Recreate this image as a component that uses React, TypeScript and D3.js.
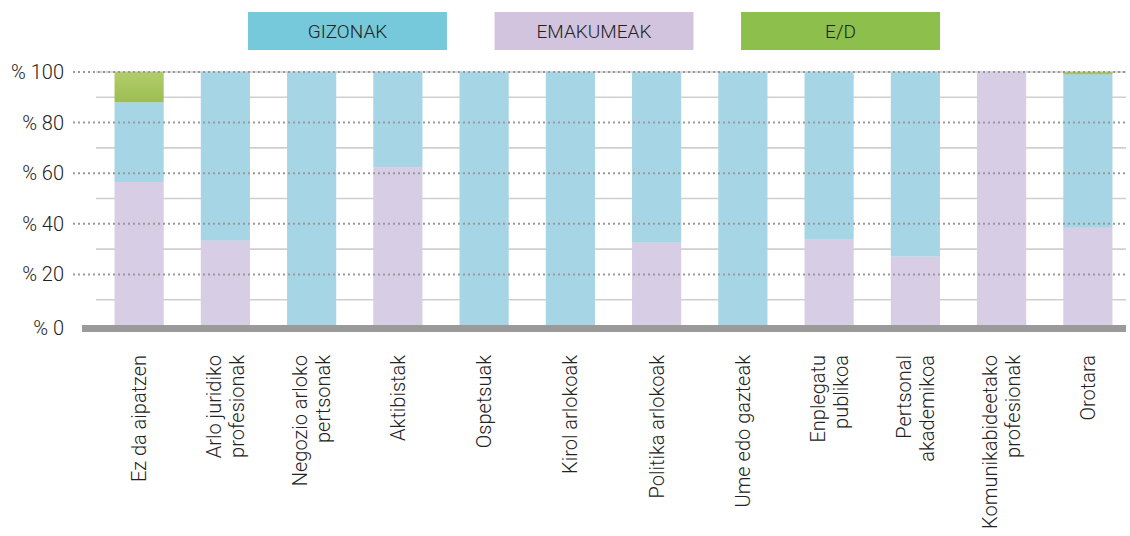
import React from 'react'
import * as d3 from 'd3'

const width = 1130;
const height = 536;
const margin = {top: 72, right: 5, bottom: 209, left: 96};

// categories (line breaks in labels marked with |)
const categories = [
  'Ez da aipatzen',
  'Arlo juridiko|profesionak',
  'Negozio arloko|pertsonak',
  'Aktibistak',
  'Ospetsuak',
  'Kirol arlokoak',
  'Politika arlokoak',
  'Ume edo gazteak',
  'Enplegatu|publikoa',
  'Pertsonal|akademikoa',
  'Komunikabideetako|profesionak',
  'Orotara'
];
const emakumeak = [56.5, 33.3, 0, 62.4, 0, 0, 32.5, 0, 33.7, 27, 100, 38.4];
const gizonak = [31.5, 66.7, 100, 37.6, 100, 100, 67.5, 100, 66.3, 73, 0, 60.6];
const ed = [12, 0, 0, 0, 0, 0, 0, 0, 0, 0, 0, 1];

const seriesNames = ['GIZONAK', 'EMAKUMEAK', 'E/D'];
const legendColors = ['#76c9da', '#d2c4de', '#8cbf4b'];
const barColors = ['#a6d6e5', '#d7cde4', 'url(#edGrad)'];
const yTicks = [0, 20, 40, 60, 80, 100];
const yMinor = [10, 30, 50, 70, 90, 100];

const font = 'Roboto, "Open Sans", sans-serif';

export default function App() {
  const x = d3.scaleBand<number>()
    .domain(categories.map((_, i) => i))
    .range([margin.left, 1131])
    .paddingInner(0.43)
    .paddingOuter(0.215);
  const y = d3.scaleLinear().domain([0, 100]).range([height - margin.bottom - 2, margin.top]);

  // stack order: emakumeak bottom, gizonak, E/D on top
  const rows = categories.map((_, i) => ({i, emak: emakumeak[i], giz: gizonak[i], ed: ed[i]}));
  const stack = d3.stack<any>().keys(['emak', 'giz', 'ed'])(rows);
  const fills: Record<string, string> = {emak: barColors[1], giz: barColors[0], ed: barColors[2]};

  const legendX = d3.scaleBand<number>().domain([0, 1, 2]).range([248, 940]).paddingInner(0.193).paddingOuter(0);

  return (
    <svg width={width} height={height} style={{position: 'absolute', left: 0, top: 0}}>
      <defs>
        <linearGradient id="edGrad" x1="0" y1="0" x2="0" y2="1">
          <stop offset="0%" stopColor="#b1cd6c" />
          <stop offset="100%" stopColor="#9dbd52" />
        </linearGradient>
      </defs>
      <rect x={0} y={0} width={width} height={height} fill="#fff" />

      {/* legend */}
      {seriesNames.map((s, i) => (
        <g key={s}>
          <rect x={legendX(i)} y={12} width={legendX.bandwidth()} height={38} fill={legendColors[i]} />
          <text x={legendX(i)! + legendX.bandwidth() / 2} y={31} dy="0.36em" textAnchor="middle"
            fontFamily={font} fontWeight={300} fontSize={19} fill="#222">{s}</text>
        </g>
      ))}

      {/* solid minor grid */}
      {yMinor.map(t => (
        <line key={'m' + t} x1={96} x2={1126} y1={y(t)} y2={y(t)} stroke="#cfcfcf" strokeWidth={1.6} />
      ))}

      {/* bars */}
      {stack.map(layer => (
        <g key={layer.key} fill={fills[layer.key]}>
          {layer.map((d, i) => d[1] - d[0] > 0 ? (
            <rect key={i} x={x(i)} width={x.bandwidth()} y={y(d[1])} height={y(d[0]) - y(d[1])} />
          ) : null)}
        </g>
      ))}

      {/* dotted major grid */}
      {yTicks.filter(t => t > 0).map(t => (
        <line key={'g' + t} x1={73} x2={1126} y1={y(t)} y2={y(t)} stroke="#999" strokeWidth={2}
          strokeDasharray="2,3" />
      ))}

      {/* baseline */}
      <rect x={82} y={y(0)} width={1044} height={7} fill="#9a9a9a" />

      {/* y labels */}
      {yTicks.map(t => (
        <text key={'y' + t} x={64} y={t === 0 ? y(t) + 3 : y(t)} dy="0.35em" textAnchor="end"
          fontFamily={font} fontWeight={300} fontSize={20} fill="#222">{'% ' + t}</text>
      ))}

      {/* category labels */}
      {categories.map((c, i) => {
        const lines = c.split('|');
        const cx = x(i)! + x.bandwidth() / 2;
        const lh = 23;
        return (
          <text key={c} transform={`translate(${cx},355) rotate(-90)`} textAnchor="end"
            fontFamily={font} fontWeight={300} fontSize={20} fill="#222">
            {lines.map((l, j) => (
              <tspan key={j} x={0} y={(j - (lines.length - 1) / 2) * lh} dy="0.35em">{l}</tspan>
            ))}
          </text>
        );
      })}
    </svg>
  );
}
